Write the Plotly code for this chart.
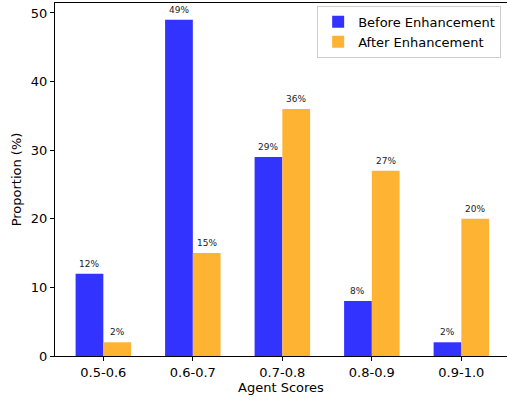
import plotly.graph_objects as go

categories = ["0.5-0.6", "0.6-0.7", "0.7-0.8", "0.8-0.9", "0.9-1.0"]
before = [12, 49, 29, 8, 2]
after = [2, 15, 36, 27, 20]
series_names = ["Before Enhancement", "After Enhancement"]
colors = ["rgb(51,51,255)", "rgb(255,179,51)"]

W = 0.31
idx = list(range(len(categories)))
font = "DejaVu Sans"

fig = go.Figure()
for vals, name, col, off in [(before, series_names[0], colors[0], -W), (after, series_names[1], colors[1], 0)]:
    fig.add_trace(go.Bar(x=idx, y=vals, name=name, marker=dict(color=col, line=dict(width=0)),
                         width=W, offset=off))
    for i, v in zip(idx, vals):
        fig.add_annotation(x=i + off + W / 2, y=v, text=f"{v}%", showarrow=False,
                           yanchor="bottom", yshift=3, font=dict(size=9, color="#222", family=font))

fig.update_layout(
    width=507, height=400,
    margin=dict(l=55, r=0, t=3, b=44, autoexpand=False),
    plot_bgcolor="white", paper_bgcolor="white",
    barmode="overlay",
    font=dict(family=font, size=13, color="black"),
    showlegend=True,
    legend=dict(x=0.58, y=0.992, xanchor="left", yanchor="top",
                bordercolor="#ccc", borderwidth=1, bgcolor="rgba(255,255,255,0.8)",
                font=dict(size=13), tracegroupgap=0, itemwidth=30),
    xaxis=dict(range=[-0.54, 4.51], tickvals=idx, ticktext=categories, automargin=False,
               showline=True, linecolor="black", linewidth=1, mirror=True,
               ticks="outside", ticklen=4, tickcolor="black", showgrid=False, zeroline=False,
               title=dict(text="Agent Scores", font=dict(size=13), standoff=4)),
    yaxis=dict(range=[0, 51.45], tickvals=[0, 10, 20, 30, 40, 50], automargin=False,
               showline=True, linecolor="black", linewidth=1, mirror=False,
               ticks="outside", ticklen=4, tickcolor="black", showgrid=False, zeroline=False,
               title=dict(text="Proportion (%)", font=dict(size=13), standoff=6)),
)

fig.write_html("out.html", config={"displayModeBar": False},
               post_script="document.body.style.margin='0';document.body.style.padding='0';")
